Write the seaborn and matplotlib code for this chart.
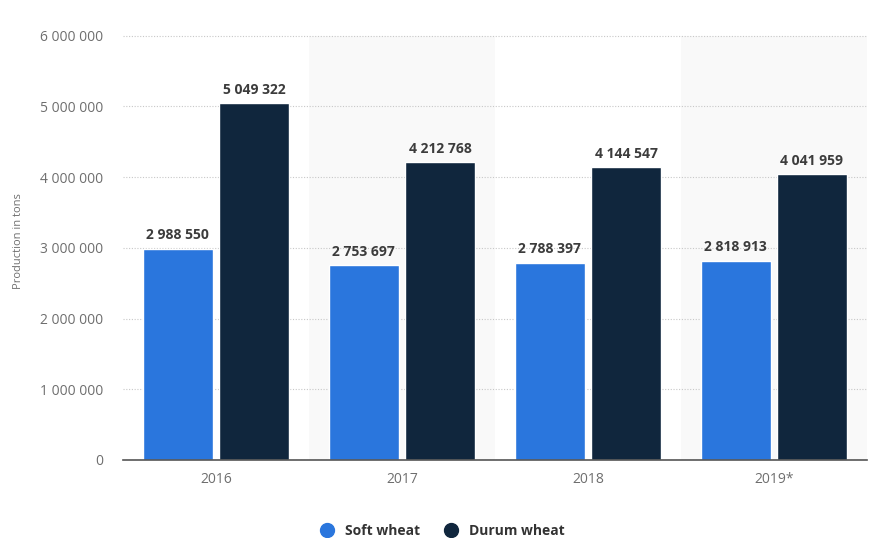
import matplotlib
matplotlib.use("Agg")
import matplotlib.pyplot as plt
import seaborn as sns
import pandas as pd
from matplotlib.lines import Line2D
from matplotlib.ticker import FuncFormatter

years = ["2016", "2017", "2018", "2019*"]
soft_wheat = [2988550, 2753697, 2788397, 2818913]
durum_wheat = [5049322, 4212768, 4144547, 4041959]
series_names = ["Soft wheat", "Durum wheat"]
colors = ["#2a76dd", "#10263d"]

df = pd.DataFrame({
    "year": years * 2,
    "value": soft_wheat + durum_wheat,
    "series": [series_names[0]] * 4 + [series_names[1]] * 4,
})

sns.set_theme(style="white")
plt.rcParams["font.family"] = ["Open Sans", "DejaVu Sans"]

fig = plt.figure(figsize=(8.69, 5.38), dpi=100)
ax = fig.add_axes([0.1415, 0.145, 0.856, 0.815])

ymax = 6200000
for i in (1, 3):
    ax.axvspan(i - 0.5, i + 0.5, ymin=0, ymax=6000000 / ymax,
               color="#f9f9f9", zorder=0, lw=0)

sns.barplot(data=df, x="year", y="value", hue="series", palette=colors,
            width=0.82, gap=0.08, ax=ax, legend=False, zorder=3,
            saturation=1)

ax.set_xlim(-0.5, 3.5)
ax.set_ylim(0, ymax)
ax.set_yticks([0, 1000000, 2000000, 3000000, 4000000, 5000000, 6000000])
ax.yaxis.set_major_formatter(FuncFormatter(lambda v, p: f"{int(v):,}".replace(",", " ")))
ax.grid(axis="y", color="#c8c8c8", linestyle=(0, (1, 1.5)), linewidth=0.8, zorder=1)
ax.set_axisbelow(True)

for s in ["top", "right", "left"]:
    ax.spines[s].set_visible(False)
ax.spines["bottom"].set_color("#555555")
ax.spines["bottom"].set_linewidth(1.2)
ax.spines["bottom"].set_zorder(4)

ax.tick_params(axis="y", length=0, labelsize=10, labelcolor="#6e6e6e", pad=14)
ax.tick_params(axis="x", length=0, labelsize=10, labelcolor="#6e6e6e", pad=9)
ax.set_xlabel("")
ax.set_ylabel("Production in tons", fontsize=8, color="#6e6e6e", labelpad=12)

for cont in ax.containers:
    for bar in cont:
        h = bar.get_height()
        ax.text(bar.get_x() + bar.get_width() / 2, h + 90000,
                f"{int(h):,}".replace(",", " "), ha="center", va="bottom",
                fontsize=10, fontweight="bold", color="#3c3c3c", zorder=5)

handles = [Line2D([0], [0], marker="o", color="none", markerfacecolor=c,
                  markeredgecolor=c, markersize=10) for c in colors]
leg = fig.legend(handles, series_names, loc="center", bbox_to_anchor=(0.505, 0.013),
                 ncol=2, frameon=False, handletextpad=0.3, columnspacing=1.2,
                 prop={"size": 10, "weight": "bold"})
for t in leg.get_texts():
    t.set_color("#333333")

fig.savefig("out.png", dpi=100)
